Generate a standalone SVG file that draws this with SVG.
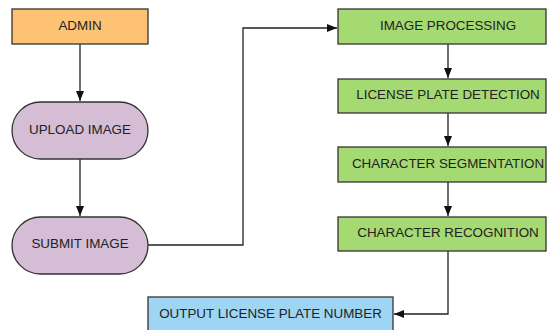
<svg xmlns="http://www.w3.org/2000/svg" width="548" height="330" viewBox="0 0 548 330">
<style>
.n{stroke:#333;stroke-width:1.3}
.t{font-family:"Liberation Sans",Arial,sans-serif;font-size:13.4px;fill:#222;text-anchor:middle;dominant-baseline:central}
.c{fill:none;stroke:#222;stroke-width:1.3}
</style>
<defs>
<marker id="a" viewBox="0 0 10 10" refX="10" refY="5" markerWidth="10" markerHeight="10" markerUnits="userSpaceOnUse" orient="auto">
<path d="M0,1 L10,5 L0,9 Z" fill="#111"/>
</marker>
</defs>
<rect width="548" height="330" fill="#fff"/>
<g id="connectors">
<path class="c" d="M80,44 V101" marker-end="url(#a)"/>
<path class="c" d="M80,159 V216" marker-end="url(#a)"/>
<path class="c" d="M148,245 H243 V28 H337" marker-end="url(#a)"/>
<path class="c" d="M448,44 V78" marker-end="url(#a)"/>
<path class="c" d="M448,113 V146" marker-end="url(#a)"/>
<path class="c" d="M448,182 V216" marker-end="url(#a)"/>
<path class="c" d="M448,251 V314 H394" marker-end="url(#a)"/>
</g>
<g id="admin"><rect class="n" x="12" y="9" width="136" height="35" fill="#FEC274"/><text class="t" x="80" y="25">ADMIN</text></g>
<g id="upload"><rect class="n" x="12" y="102" width="136" height="57" rx="28.5" fill="#D4BDD5"/><text class="t" x="80" y="129">UPLOAD IMAGE</text></g>
<g id="submit"><rect class="n" x="12" y="217" width="136" height="57" rx="28.5" fill="#D4BDD5"/><text class="t" x="80" y="243">SUBMIT IMAGE</text></g>
<g id="imgproc"><rect class="n" x="338" y="9" width="208" height="35" fill="#A5D972"/><text class="t" x="448" y="25">IMAGE PROCESSING</text></g>
<g id="lpd"><rect class="n" x="338" y="79" width="208" height="34" fill="#A5D972"/><text class="t" x="448" y="94">LICENSE PLATE DETECTION</text></g>
<g id="seg"><rect class="n" x="338" y="147" width="208" height="35" fill="#A5D972"/><text class="t" x="448" y="163">CHARACTER SEGMENTATION</text></g>
<g id="rec"><rect class="n" x="338" y="217" width="208" height="34" fill="#A5D972"/><text class="t" x="448" y="232">CHARACTER RECOGNITION</text></g>
<g id="output"><rect class="n" x="148" y="297" width="245" height="40" fill="#9ED5F2"/><text class="t" x="270.5" y="313">OUTPUT LICENSE PLATE NUMBER</text></g>
</svg>
